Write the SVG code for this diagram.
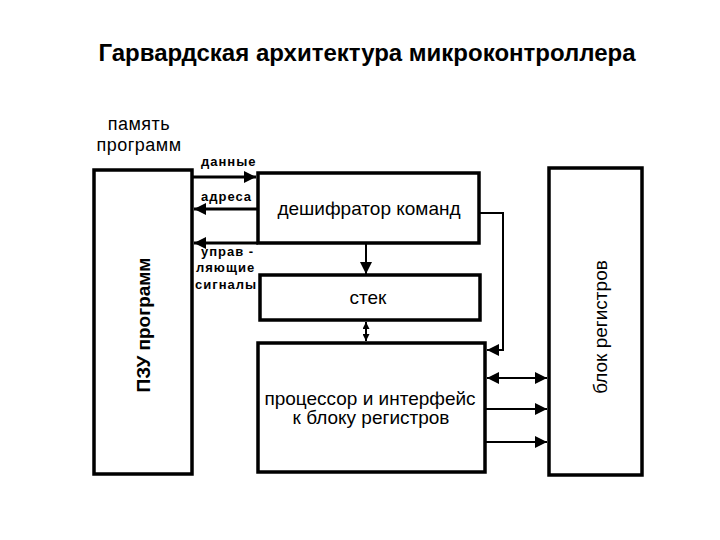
<svg xmlns="http://www.w3.org/2000/svg" width="720" height="540" viewBox="0 0 720 540">
<style>
.box{fill:#fff;stroke:#000;stroke-width:3.5}
.ln{fill:none;stroke:#000;stroke-width:3}
.ln2{fill:none;stroke:#000;stroke-width:2}
text{font-family:"Liberation Sans",Arial,sans-serif;fill:#000}
.t{font-size:24px;font-weight:bold}
.lbl{font-size:19px}
.mem{font-size:18px;letter-spacing:0.5px}
.sm{font-size:13px;font-weight:bold;letter-spacing:1px}
</style>
<defs>
<marker id="ah" viewBox="0 0 10 10" refX="10" refY="5" markerWidth="4" markerHeight="4" orient="auto-start-reverse"><path d="M0,0 L10,5 L0,10 z" fill="#000"/></marker>
<marker id="ah2" viewBox="0 0 10 10" refX="10" refY="5" markerWidth="6" markerHeight="6" orient="auto-start-reverse"><path d="M0,0 L10,5 L0,10 z" fill="#000"/></marker>
<marker id="ah3" viewBox="0 0 10 10" refX="10" refY="5" markerWidth="3.5" markerHeight="3.5" orient="auto-start-reverse"><path d="M0,0 L10,5 L0,10 z" fill="#000"/></marker>
</defs>
<text class="t" x="367" y="61" text-anchor="middle">Гарвардская архитектура микроконтроллера</text>
<g id="pzu">
<rect class="box" x="94" y="170" width="98" height="304"/>
<text class="mem" x="139" y="130" text-anchor="middle">память</text>
<text class="mem" x="139" y="151" text-anchor="middle">программ</text>
<text class="lbl" font-weight="bold" transform="translate(150,325) rotate(-90)" text-anchor="middle">ПЗУ программ</text>
</g>
<g id="decoder">
<rect class="box" x="258" y="173" width="221" height="70"/>
<text class="lbl" x="369" y="215" text-anchor="middle">дешифратор команд</text>
</g>
<g id="stack">
<rect class="box" x="260" y="275" width="220" height="45"/>
<text class="lbl" x="368" y="304" text-anchor="middle">стек</text>
</g>
<g id="processor">
<rect class="box" x="258" y="343" width="227" height="129"/>
<text class="lbl" x="370" y="405" text-anchor="middle">процессор и интерфейс</text>
<text class="lbl" x="371" y="424" text-anchor="middle">к блоку регистров</text>
</g>
<g id="registers">
<rect class="box" x="549" y="168" width="93" height="307"/>
<text class="lbl" transform="translate(607,327) rotate(-90)" text-anchor="middle">блок  регистров</text>
</g>
<g id="labels">
<text class="sm" x="201" y="166">данные</text>
<text class="sm" x="201" y="201">адреса</text>
<text class="sm" x="201" y="256">управ -</text>
<text class="sm" x="196" y="272">ляющие</text>
<text class="sm" x="195" y="289">сигналы</text>
</g>
<g id="connectors">
<line class="ln" x1="192" y1="177" x2="256" y2="177" marker-end="url(#ah)"/>
<line class="ln" x1="258" y1="209" x2="194" y2="209" marker-end="url(#ah)"/>
<line class="ln" x1="258" y1="243" x2="194" y2="243" marker-end="url(#ah)"/>
<line class="ln2" x1="366" y1="243" x2="366" y2="274" marker-end="url(#ah2)"/>
<line class="ln2" x1="366" y1="322" x2="366" y2="341" marker-start="url(#ah3)" marker-end="url(#ah3)"/>
<polyline class="ln2" points="479,213 503,213 503,350 487,350" marker-end="url(#ah2)"/>
<line class="ln2" x1="487" y1="378" x2="547" y2="378" marker-start="url(#ah2)" marker-end="url(#ah2)"/>
<line class="ln2" x1="485" y1="409" x2="547" y2="409" marker-end="url(#ah2)"/>
<line class="ln2" x1="485" y1="442" x2="547" y2="442" marker-end="url(#ah2)"/>
</g>
</svg>
